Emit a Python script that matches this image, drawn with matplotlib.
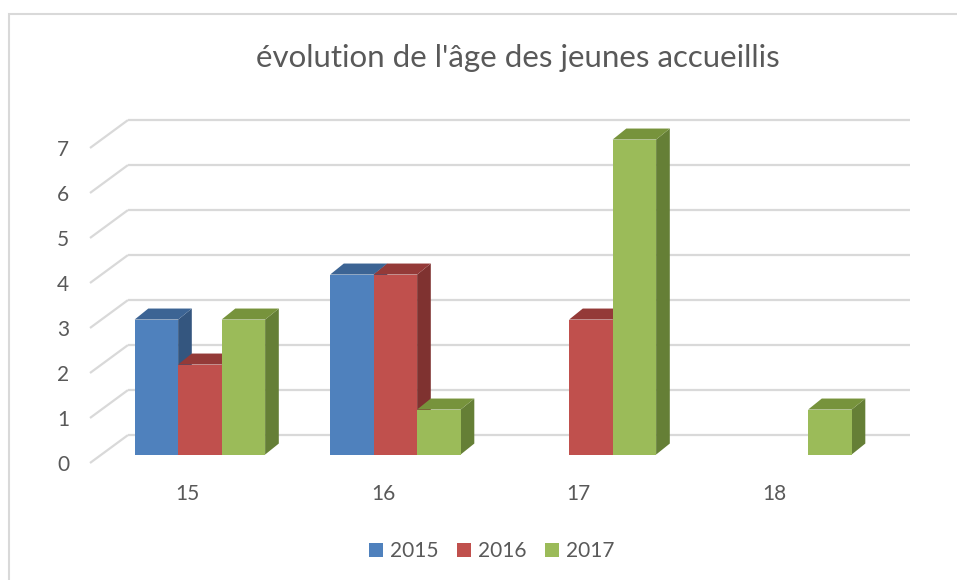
import matplotlib
matplotlib.use("Agg")
import matplotlib.pyplot as plt
from matplotlib.patches import Polygon, Patch

# data
categories = ["15", "16", "17", "18"]
years = ["2015", "2016", "2017"]
v2015 = [3, 4, 0, 0]
v2016 = [2, 4, 3, 0]
v2017 = [3, 1, 7, 1]
yticks = [0, 1, 2, 3, 4, 5, 6, 7]

front_cols = ["#4f81bd", "#c0504d", "#9bbb59"]
top_cols = ["#3c6494", "#943a38", "#77933c"]
side_cols = ["#34567f", "#7f3230", "#657f36"]

# fake 3d geometry (in data units)
bw = 0.2225          # bar width
wall_dx, wall_dy = 0.194, 0.62   # depth of floor/back wall
bar_dx, bar_dy = 0.07, 0.245     # depth of one bar
off_dx, off_dy = (wall_dx - bar_dx) / 2, (wall_dy - bar_dy) / 2

plt.rcParams['font.family'] = ['Lato', 'DejaVu Sans']
txt = "#595959"
grid = "#d9d9d9"

fig = plt.figure(figsize=(9.57, 5.8), dpi=100)
ax = fig.add_axes([90 / 957, 117 / 580, 782 / 957, 315 / 580])
ax.set_xlim(-0.5, len(categories) - 0.5)
ax.set_ylim(0, 7)
for s in ax.spines.values():
    s.set_visible(False)

# floor / wall grid lines
x_left = -0.5
x_right = len(categories) - 0.5
for k in yticks:
    ax.plot([x_left, x_left + wall_dx], [k, k + wall_dy], color=grid, lw=1.6,
            clip_on=False, zorder=1, solid_capstyle='butt')
    ax.plot([x_left + wall_dx, x_right + wall_dx], [k + wall_dy, k + wall_dy],
            color=grid, lw=1.6, clip_on=False, zorder=1, solid_capstyle='butt')

series = [v2015, v2016, v2017]
z = 2
for i in range(len(categories)):
    for j, vals in enumerate(series):
        v = vals[i]
        if v == 0:
            continue
        x0 = i + (j - 1.5) * bw + off_dx
        y0 = off_dy
        front = Polygon([(x0, y0), (x0 + bw, y0), (x0 + bw, y0 + v), (x0, y0 + v)],
                        closed=True, facecolor=front_cols[j], edgecolor='none', zorder=z + 1)
        side = Polygon([(x0 + bw, y0), (x0 + bw + bar_dx, y0 + bar_dy),
                        (x0 + bw + bar_dx, y0 + v + bar_dy), (x0 + bw, y0 + v)],
                       closed=True, facecolor=side_cols[j], edgecolor='none', zorder=z)
        top = Polygon([(x0, y0 + v), (x0 + bar_dx, y0 + v + bar_dy),
                       (x0 + bw + bar_dx, y0 + v + bar_dy), (x0 + bw, y0 + v)],
                      closed=True, facecolor=top_cols[j], edgecolor='none', zorder=z)
        for p in (side, top, front):
            p.set_clip_on(False)
            ax.add_patch(p)
        z += 2

ax.set_xticks(range(len(categories)))
ax.set_xticklabels(categories)
ax.set_yticks(yticks)
ax.tick_params(axis='both', length=0, labelsize=15, colors=txt)
ax.tick_params(axis='y', pad=15)
ax.tick_params(axis='x', pad=15)

fig.text(518 / 957, 1 - 58 / 580, "évolution de l'âge des jeunes accueillis",
         ha='center', va='center', fontsize=22.5, color=txt)

handles = [Patch(facecolor=c, edgecolor='none') for c in front_cols]
fig.legend(handles, years, loc='center', bbox_to_anchor=(492 / 957, 1 - 551 / 580),
           ncol=3, frameon=False, fontsize=15, labelcolor=txt,
           handlelength=0.65, handleheight=0.65, handletextpad=0.35, columnspacing=0.9)

# chart border
fig.add_artist(plt.Rectangle((9 / 957, -0.05), 1.1, 1 - 14 / 580 + 0.05,
                             transform=fig.transFigure, fill=False, edgecolor=grid, lw=1.5))

fig.savefig("out.png", dpi=100)
